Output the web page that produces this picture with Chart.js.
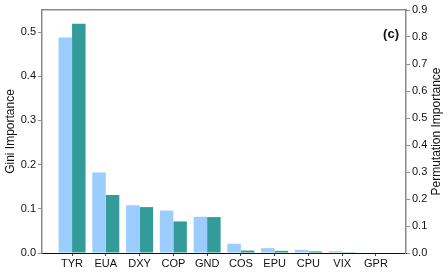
<!DOCTYPE html>
<html>
<head>
<meta charset="utf-8">
<script src="https://cdn.jsdelivr.net/npm/chart.js@4"></script>
<style>
  html, body { margin: 0; padding: 0; background: #fff; }
  #wrap { width: 448px; height: 275px; }
</style>
</head>
<body>
<div id="wrap"><canvas id="myChart"></canvas></div>
<script>
const categories = ["TYR", "EUA", "DXY", "COP", "GND", "COS", "EPU", "CPU", "VIX", "GPR"];
const giniValues = [0.488, 0.182, 0.108, 0.096, 0.082, 0.021, 0.011, 0.007, 0.004, 0];
const permValues = [0.849, 0.215, 0.170, 0.117, 0.133, 0.009, 0.008, 0.006, 0.003, 0];
const giniTicks = [0, 0.1, 0.2, 0.3, 0.4, 0.5];
const permTicks = [0, 0.1, 0.2, 0.3, 0.4, 0.5, 0.6, 0.7, 0.8, 0.9];

const fontFamily = "'Liberation Sans', Arial, sans-serif";
const font = { family: fontFamily, size: 11 };
const axisGray = "#8a8a8a";

// panel tag and the right axis title (Chart.js would rotate it the other way)
const extraText = {
  id: "extraText",
  afterDraw(chart) {
    const { ctx, chartArea } = chart;
    ctx.save();
    ctx.font = "bold 13px " + fontFamily;
    ctx.fillStyle = "#111";
    ctx.textAlign = "right";
    ctx.textBaseline = "middle";
    ctx.fillText("(c)", chartArea.right - 7, 34);

    ctx.font = "12px " + fontFamily;
    ctx.textAlign = "center";
    ctx.translate(chart.width - 11, (chartArea.top + chartArea.bottom) / 2);
    ctx.rotate(-Math.PI / 2);
    ctx.fillText("Permutation Importance", 0, 0);
    ctx.restore();
  },
};

const info = {
  datasets: [
    {
      label: "Gini Importance",
      data: giniValues.map((v, i) => ({ x: i, y: v })),
      backgroundColor: "#9ccdff",
      yAxisID: "y",
      categoryPercentage: 0.8,
      barPercentage: 1.0,
    },
    {
      label: "Permutation Importance",
      data: permValues.map((v, i) => ({ x: i, y: v })),
      backgroundColor: "#339b99",
      yAxisID: "y2",
      categoryPercentage: 0.8,
      barPercentage: 1.0,
    },
  ],
};

const options = {
  responsive: true,
  maintainAspectRatio: false,
  animation: false,
  layout: { padding: 0 },
  scales: {
    x: {
      type: "linear",
      position: "bottom",
      offset: false,
      min: -0.89,
      max: 9.89,
      afterFit: (s) => { s.height = 22; },
      ticks: {
        stepSize: 1,
        includeBounds: false,
        autoSkip: false,
        maxRotation: 0,
        padding: 1,
        color: "#111",
        font,
        callback: (v) => categories[v] ?? "",
      },
      grid: { offset: false, drawOnChartArea: false, drawTicks: true, tickLength: 3, color: "#444" },
      border: { color: "#111", width: 1 },
    },
    xTop: {
      type: "linear",
      position: "top",
      afterFit: (s) => { s.height = 10; },
      ticks: { display: false },
      grid: { display: false },
      border: { color: axisGray, width: 1.5 },
    },
    y: {
      position: "left",
      min: 0,
      max: 0.55,
      afterFit: (s) => { s.width = 42; },
      afterBuildTicks: (s) => { s.ticks = giniTicks.map((v) => ({ value: v })); },
      ticks: {
        padding: 2,
        color: "#111",
        font,
        callback: (v) => v.toFixed(1),
      },
      grid: { drawOnChartArea: false, drawTicks: true, tickLength: 4, color: axisGray },
      border: { color: axisGray, width: 1.5 },
      title: {
        display: true,
        text: "Gini Importance",
        color: "#111",
        font: { family: fontFamily, size: 12 },
        padding: { top: 3, bottom: 0 },
      },
    },
    y2: {
      position: "right",
      min: 0,
      max: 0.9,
      afterFit: (s) => { s.width = 42; },
      afterBuildTicks: (s) => { s.ticks = permTicks.map((v) => ({ value: v })); },
      ticks: {
        padding: 2,
        color: "#111",
        font,
        callback: (v) => v.toFixed(1),
      },
      grid: { drawOnChartArea: false, drawTicks: true, tickLength: 4, color: axisGray },
      border: { color: axisGray, width: 1.5 },
    },
  },
  plugins: {
    legend: { display: false },
    tooltip: { enabled: false },
  },
};

new Chart(document.getElementById("myChart"), {
  type: "bar",
  data: info,
  options,
  plugins: [extraText],
});
</script>
</body>
</html>
